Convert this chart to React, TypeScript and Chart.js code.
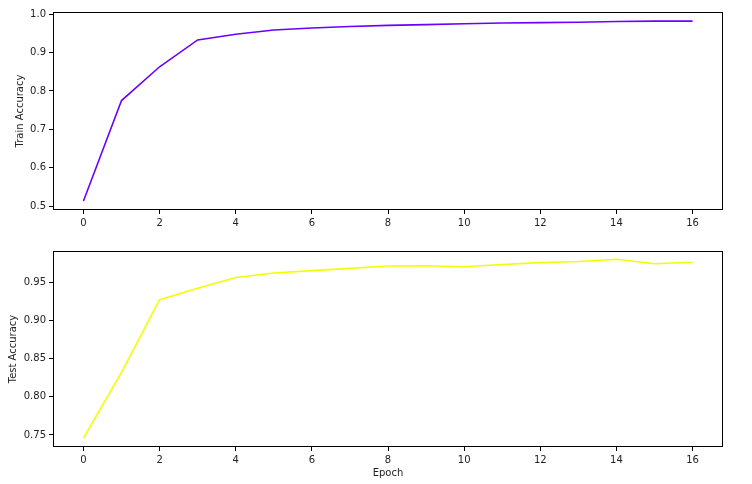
import React, { useEffect, useRef } from "react";
import { Chart, registerables } from "chart.js";

Chart.register(...registerables);

const epochs = [0, 1, 2, 3, 4, 5, 6, 7, 8, 9, 10, 11, 12, 13, 14, 15, 16];
const trainAcc = [0.513, 0.775, 0.863, 0.933, 0.948, 0.959, 0.964, 0.968, 0.971, 0.973, 0.975, 0.977, 0.978, 0.979, 0.981, 0.982, 0.982];
const testAcc = [0.746, 0.832, 0.927, 0.942, 0.956, 0.962, 0.965, 0.968, 0.971, 0.9715, 0.970, 0.973, 0.9755, 0.977, 0.980, 0.974, 0.976];
const xTicks = [0, 2, 4, 6, 8, 10, 12, 14, 16];
const trainTicks = [0.5, 0.6, 0.7, 0.8, 0.9, 1.0];
const testTicks = [0.75, 0.8, 0.85, 0.9, 0.95];

const FONT = { family: "'DejaVu Sans', sans-serif", size: 10 };
const TEXT = "#222";

const framePlugin = {
  id: "frame",
  afterDatasetsDraw(chart: any) {
    const { ctx, chartArea } = chart;
    ctx.save();
    ctx.strokeStyle = "#000";
    ctx.lineWidth = 1;
    ctx.strokeRect(
      Math.round(chartArea.left) + 0.5,
      Math.round(chartArea.top) + 0.5,
      Math.round(chartArea.right - chartArea.left) - 1,
      Math.round(chartArea.bottom - chartArea.top) - 1
    );
    ctx.restore();
  },
};

function makeConfig(opts: {
  data: number[];
  color: string;
  yTicks: number[];
  yMin: number;
  yMax: number;
  decimals: number;
  yTitle: string;
  yTitlePad: number;
  topPad: number;
  xHeight: number;
  xTitle?: string;
}) {
  return {
    type: "line" as const,
    data: {
      datasets: [
        {
          data: epochs.map((e, i) => ({ x: e, y: opts.data[i] })),
          borderColor: opts.color,
          borderWidth: 1.6,
          pointRadius: 0,
          tension: 0,
          fill: false,
        },
      ],
    },
    options: {
      animation: false,
      responsive: false,
      maintainAspectRatio: false,
      layout: { padding: { top: opts.topPad, right: 29, left: 0, bottom: 0 } },
      plugins: { legend: { display: false }, tooltip: { enabled: false } },
      scales: {
        x: {
          type: "linear",
          min: -0.8,
          max: 16.8,
          afterBuildTicks: (s: any) => {
            s.ticks = xTicks.map((v) => ({ value: v }));
          },
          afterFit: (s: any) => {
            s.height = opts.xHeight;
          },
          border: { display: false },
          grid: { display: true, drawOnChartArea: false, drawTicks: true, tickLength: 4, color: "#000" },
          ticks: { color: TEXT, font: FONT, padding: 3, maxRotation: 0, callback: (v: any) => String(v) },
          title: opts.xTitle
            ? { display: true, text: opts.xTitle, color: TEXT, font: FONT, padding: { top: 0, bottom: 5 } }
            : { display: false },
        },
        y: {
          type: "linear",
          min: opts.yMin,
          max: opts.yMax,
          afterBuildTicks: (s: any) => {
            s.ticks = opts.yTicks.map((v) => ({ value: v }));
          },
          afterFit: (s: any) => {
            s.width = 53;
          },
          border: { display: false },
          grid: { display: true, drawOnChartArea: false, drawTicks: true, tickLength: 4, color: "#000" },
          ticks: {
            color: TEXT,
            font: FONT,
            padding: 3,
            callback: (v: any) => Number(v).toFixed(opts.decimals),
          },
          title: { display: true, text: opts.yTitle, color: TEXT, font: FONT, padding: { top: opts.yTitlePad, bottom: 0 } },
        },
      },
    },
    plugins: [framePlugin],
  };
}

export default function App() {
  const topRef = useRef<HTMLCanvasElement>(null);
  const botRef = useRef<HTMLCanvasElement>(null);

  useEffect(() => {
    const c1 = new Chart(
      topRef.current as HTMLCanvasElement,
      makeConfig({
        data: trainAcc,
        color: "#6a00ff",
        yTicks: trainTicks,
        yMin: 0.4896,
        yMax: 1.0058,
        decimals: 1,
        yTitle: "Train Accuracy",
        yTitlePad: 14,
        topPad: 12,
        xHeight: 32,
      }) as any
    );
    const c2 = new Chart(
      botRef.current as HTMLCanvasElement,
      makeConfig({
        data: testAcc,
        color: "#f2ff00",
        yTicks: testTicks,
        yMin: 0.7343,
        yMax: 0.9907,
        decimals: 2,
        yTitle: "Test Accuracy",
        yTitlePad: 7.5,
        topPad: 7,
        xHeight: 37,
        xTitle: "Epoch",
      }) as any
    );
    return () => {
      c1.destroy();
      c2.destroy();
    };
  }, []);

  return (
    <div style={{ position: "fixed", left: 0, top: 0, width: 752, height: 484, background: "#fff" }}>
      <canvas ref={topRef} width={752} height={242} style={{ position: "absolute", left: 0, top: 0, width: 752, height: 242 }} />
      <canvas ref={botRef} width={752} height={242} style={{ position: "absolute", left: 0, top: 242, width: 752, height: 242 }} />
    </div>
  );
}
